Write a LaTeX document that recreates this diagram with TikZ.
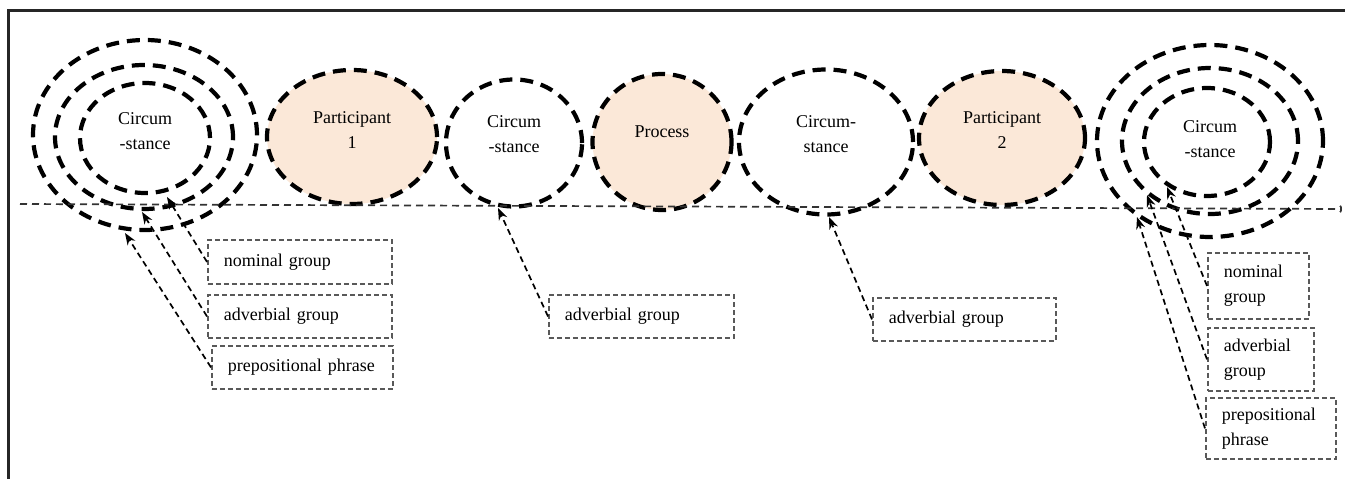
\documentclass[tikz,border=0pt]{standalone}
\usepackage{fontspec}
\setmainfont{Liberation Serif}
\usetikzlibrary{shapes.geometric,arrows.meta}
\definecolor{peach}{RGB}{251,232,216}
\tikzset{
  ring/.style={draw=black, line width=4.2pt, dash pattern=on 13pt off 8pt, ellipse, inner sep=0pt, outer sep=0pt},
  lbl/.style={font=\fontsize{18}{25}\selectfont, align=center, inner sep=0pt},
  gbox/.style={draw=black!65, line width=1.8pt, dash pattern=on 5pt off 3pt, anchor=north west,
     font=\fontsize{18}{25}\selectfont, align=left, inner ysep=0pt},
  ptr/.style={draw=black, line width=1.7pt, dash pattern=on 6pt off 4pt, -{Stealth[length=12pt,width=9pt]}},
}
\begin{document}
\begin{tikzpicture}[x=1pt,y=-1pt]
\useasboundingbox (0,0) rectangle (1345,479);
% frame
\draw[line width=3pt, black!85] (8,479) -- (8,10) -- (1345,10);
% left concentric circumstance
\node[ring, minimum width=224pt, minimum height=190pt] (c1o) at (145,135) {};
\node[ring, minimum width=178pt, minimum height=144pt] (c1m) at (144,137) {};
\node[ring, minimum width=130pt, minimum height=110pt] (c1i) at (145,138) {};
\node[lbl] (t1) at (145,131) {Circum\\-stance};
% participant 1
\node[ring, fill=peach, minimum width=170pt, minimum height=134pt] (p1) at (352,137) {};
\node[lbl] (tp1) at (352,130) {Participant\\1};
% circumstance 2
\node[ring, minimum width=136pt, minimum height=127pt] (c2) at (514,143) {};
\node[lbl] (t2) at (514,134) {Circum\\-stance};
% process
\node[ring, fill=peach, minimum width=139pt, minimum height=136pt] (pr) at (662,142) {};
\node[lbl] (tpr) at (662,132) {Process};
% circumstance 3
\node[ring, minimum width=174pt, minimum height=145pt] (c3) at (826,142) {};
\node[lbl] (t3) at (826,134) {Circum-\\stance};
% participant 2
\node[ring, fill=peach, minimum width=166pt, minimum height=134pt] (p2) at (1002,138) {};
\node[lbl] (tp2) at (1002,130) {Participant\\2};
% right concentric circumstance
\node[ring, minimum width=226pt, minimum height=192pt] (c4o) at (1210,141) {};
\node[ring, minimum width=176pt, minimum height=146pt] (c4m) at (1210,141) {};
\node[ring, minimum width=126pt, minimum height=108pt] (c4i) at (1207,142) {};
\node[lbl] (t4) at (1210,139) {Circum\\-stance};
% baseline
\coordinate (bl) at (20,204);
\coordinate (br) at (1342,209);
\draw[line width=1.7pt, black!80, dash pattern=on 7pt off 5pt, -{Arc Barb[length=2pt,width=8pt]}] (bl) -- (br);
% boxes left
\node[gbox, text width=152pt, inner xsep=16pt, minimum height=44pt] (b1) at (207,239) {nominal group};
\node[gbox, text width=152pt, inner xsep=16pt, minimum height=43pt] (b2) at (207,294) {adverbial group};
\node[gbox, text width=149pt, inner xsep=16pt, minimum height=43pt] (b3) at (211,345) {prepositional phrase};
% middle boxes
\node[gbox, text width=153pt, inner xsep=16pt, minimum height=43pt] (b4) at (548,294) {adverbial group};
\node[gbox, text width=151pt, inner xsep=16pt, minimum height=43pt] (b5) at (872,297) {adverbial group};
% right boxes
\node[gbox, text width=69pt, inner xsep=16pt, minimum height=66pt] (b6) at (1207,252) {nominal\\group};
\node[gbox, text width=74pt, inner xsep=16pt, minimum height=63pt] (b7) at (1207,327) {adverbial\\group};
\node[gbox, text width=98pt, inner xsep=16pt, minimum height=61pt] (b8) at (1205,397) {prepositional\\phrase};
% arrow targets
\coordinate (a1) at (167,197);
\coordinate (a2) at (142,212);
\coordinate (a3) at (125,233);
\coordinate (a4) at (498,208);
\coordinate (a5) at (829,217);
\coordinate (a6) at (1167,187);
\coordinate (a7) at (1147,195);
\coordinate (a8) at (1137,217);
\draw[ptr] (b1.west) -- (a1);
\draw[ptr] (b2.west) -- (a2);
\draw[ptr] (b3.west) -- (a3);
\draw[ptr] (b4.west) -- (a4);
\draw[ptr] (b5.west) -- (a5);
\draw[ptr] (b6.west) -- (a6);
\draw[ptr] (b7.west) -- (a7);
\draw[ptr] (b8.west) -- (a8);
\end{tikzpicture}
\end{document}
